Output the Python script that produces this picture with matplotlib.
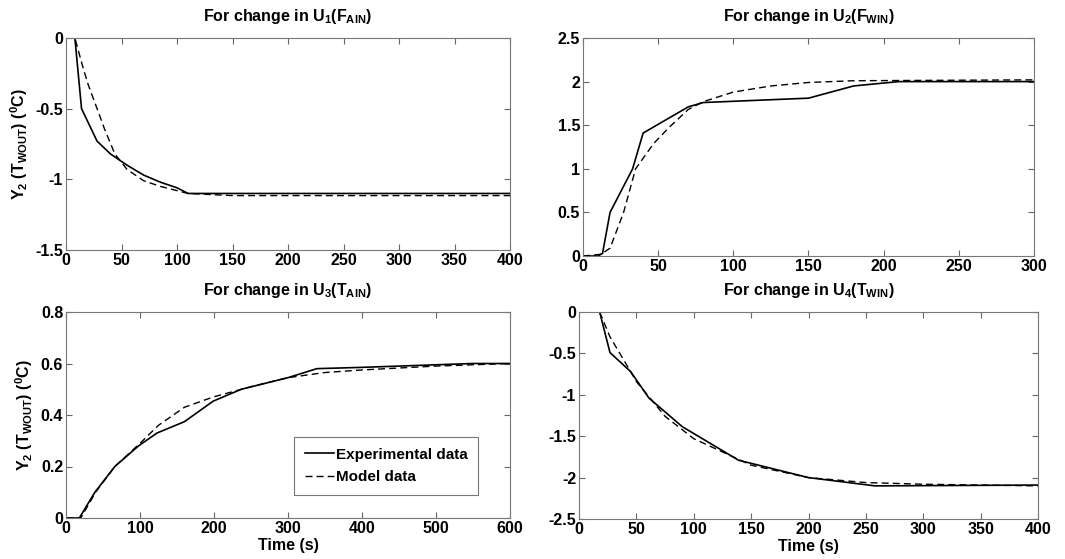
import matplotlib
matplotlib.use("Agg")
import matplotlib.pyplot as plt

plt.rcParams['font.family'] = ['Liberation Sans', 'DejaVu Sans']
plt.rcParams['font.weight'] = 'bold'
plt.rcParams['mathtext.default'] = 'regular'

# U1 (F_AIN)
u1_t_exp = [0, 8, 14, 28, 40, 55, 70, 85, 100, 110, 400]
u1_y_exp = [0, 0, -0.5, -0.73, -0.82, -0.9, -0.97, -1.02, -1.06, -1.10, -1.10]
u1_t_mod = [0, 8, 15, 20, 28, 35, 44, 55, 70, 85, 100, 110, 150, 400]
u1_y_mod = [0, 0, -0.2, -0.33, -0.5, -0.65, -0.82, -0.93, -1.01, -1.05, -1.08, -1.10, -1.115, -1.115]

# U2 (F_WIN)
u2_t_exp = [0, 10, 13, 18, 33, 40, 70, 80, 150, 180, 210, 300]
u2_y_exp = [0, 0, 0.03, 0.5, 1.0, 1.41, 1.71, 1.76, 1.81, 1.95, 2.0, 2.0]
u2_t_mod = [0, 12, 18, 27, 35, 47, 57, 70, 80, 100, 125, 150, 180, 300]
u2_y_mod = [0, 0.02, 0.09, 0.5, 1.0, 1.29, 1.47, 1.68, 1.77, 1.88, 1.95, 1.99, 2.01, 2.02]

# U3 (T_AIN)
u3_t_exp = [0, 18, 39, 66, 98, 123, 160, 199, 237, 300, 339, 400, 550, 600]
u3_y_exp = [0, 0, 0.10, 0.2, 0.28, 0.33, 0.374, 0.454, 0.50, 0.545, 0.58, 0.585, 0.6, 0.6]
u3_t_mod = [0, 20, 40, 66, 100, 125, 160, 199, 250, 300, 350, 400, 500, 600]
u3_y_mod = [0, 0, 0.10, 0.2, 0.29, 0.36, 0.43, 0.47, 0.51, 0.545, 0.565, 0.575, 0.59, 0.6]

# U4 (T_WIN)
u4_t_exp = [18, 27, 45, 61, 90, 139, 200, 258, 400]
u4_y_exp = [0, -0.49, -0.72, -1.04, -1.385, -1.79, -2.0, -2.10, -2.09]
u4_t_mod = [18, 27, 45, 50, 75, 100, 150, 200, 250, 300, 400]
u4_y_mod = [0, -0.3, -0.72, -0.84, -1.26, -1.53, -1.85, -2.0, -2.06, -2.08, -2.1]

titles = ['For change in U$_1$(F$_{AIN}$)', 'For change in U$_2$(F$_{WIN}$)',
          'For change in U$_3$(T$_{AIN}$)', 'For change in U$_4$(T$_{WIN}$)']
ylabel = 'Y$_2$ (T$_{WOUT}$) ($^0$C)'
xlabel = 'Time (s)'

FS = 11.5

fig = plt.figure(figsize=(10.65, 5.59), dpi=100)
W, H = 1065, 559
def ax_at(l, t, r, b):
    return fig.add_axes([l / W, 1 - b / H, (r - l) / W, (b - t) / H])

ax1 = ax_at(66, 38, 510, 250)
ax2 = ax_at(583, 38, 1034, 256)
ax3 = ax_at(66, 312, 510, 518)
ax4 = ax_at(579, 312, 1038, 519)

data = [
    (ax1, u1_t_exp, u1_y_exp, u1_t_mod, u1_y_mod, (0, 400), (-1.5, 0), [-1.5, -1, -0.5, 0], ['-1.5', '-1', '-0.5', '0']),
    (ax2, u2_t_exp, u2_y_exp, u2_t_mod, u2_y_mod, (0, 300), (0, 2.5), [0, 0.5, 1, 1.5, 2, 2.5], ['0', '0.5', '1', '1.5', '2', '2.5']),
    (ax3, u3_t_exp, u3_y_exp, u3_t_mod, u3_y_mod, (0, 600), (0, 0.8), [0, 0.2, 0.4, 0.6, 0.8], ['0', '0.2', '0.4', '0.6', '0.8']),
    (ax4, u4_t_exp, u4_y_exp, u4_t_mod, u4_y_mod, (0, 400), (-2.5, 0), [-2.5, -2, -1.5, -1, -0.5, 0], ['-2.5', '-2', '-1.5', '-1', '-0.5', '0']),
]

for i, (ax, te, ye, tm, ym, xl, yl, yt, ytl) in enumerate(data):
    ax.plot(te, ye, color='black', lw=1.2, label='Experimental data')
    ax.plot(tm, ym, color='black', lw=1.0, ls=(0, (5, 3)), label='Model data')
    ax.set_xlim(*xl)
    ax.set_ylim(*yl)
    ax.set_yticks(yt)
    ax.set_yticklabels(ytl)
    ax.tick_params(direction='in', top=True, right=True, labelsize=FS, length=4,
                   color='#666666', pad=2)
    for lab in ax.get_xticklabels() + ax.get_yticklabels():
        lab.set_fontweight('bold')
    for s in ax.spines.values():
        s.set_color('#777777')
        s.set_linewidth(0.8)
    ax.set_title(titles[i], fontsize=FS, fontweight='bold', pad=12 if i < 2 else 12)

ax1.set_ylabel(ylabel, fontsize=FS, fontweight='bold', labelpad=4)
ax3.set_ylabel(ylabel, fontsize=FS, fontweight='bold', labelpad=4)
ax3.set_xlabel(xlabel, fontsize=FS, fontweight='bold', labelpad=1.5)
ax4.set_xlabel(xlabel, fontsize=FS, fontweight='bold', labelpad=1.5)

leg = ax3.legend(loc='upper left', bbox_to_anchor=((294 - 66) / 444, 1 - (437 - 312) / 206),
                 frameon=True, fancybox=False, edgecolor='#555555', handlelength=1.9,
                 handletextpad=0.15, borderpad=0.7, labelspacing=0.55, borderaxespad=0,
                 prop={'weight': 'bold', 'size': 11})
leg.get_frame().set_linewidth(0.8)

fig.savefig('out.png', dpi=100)
